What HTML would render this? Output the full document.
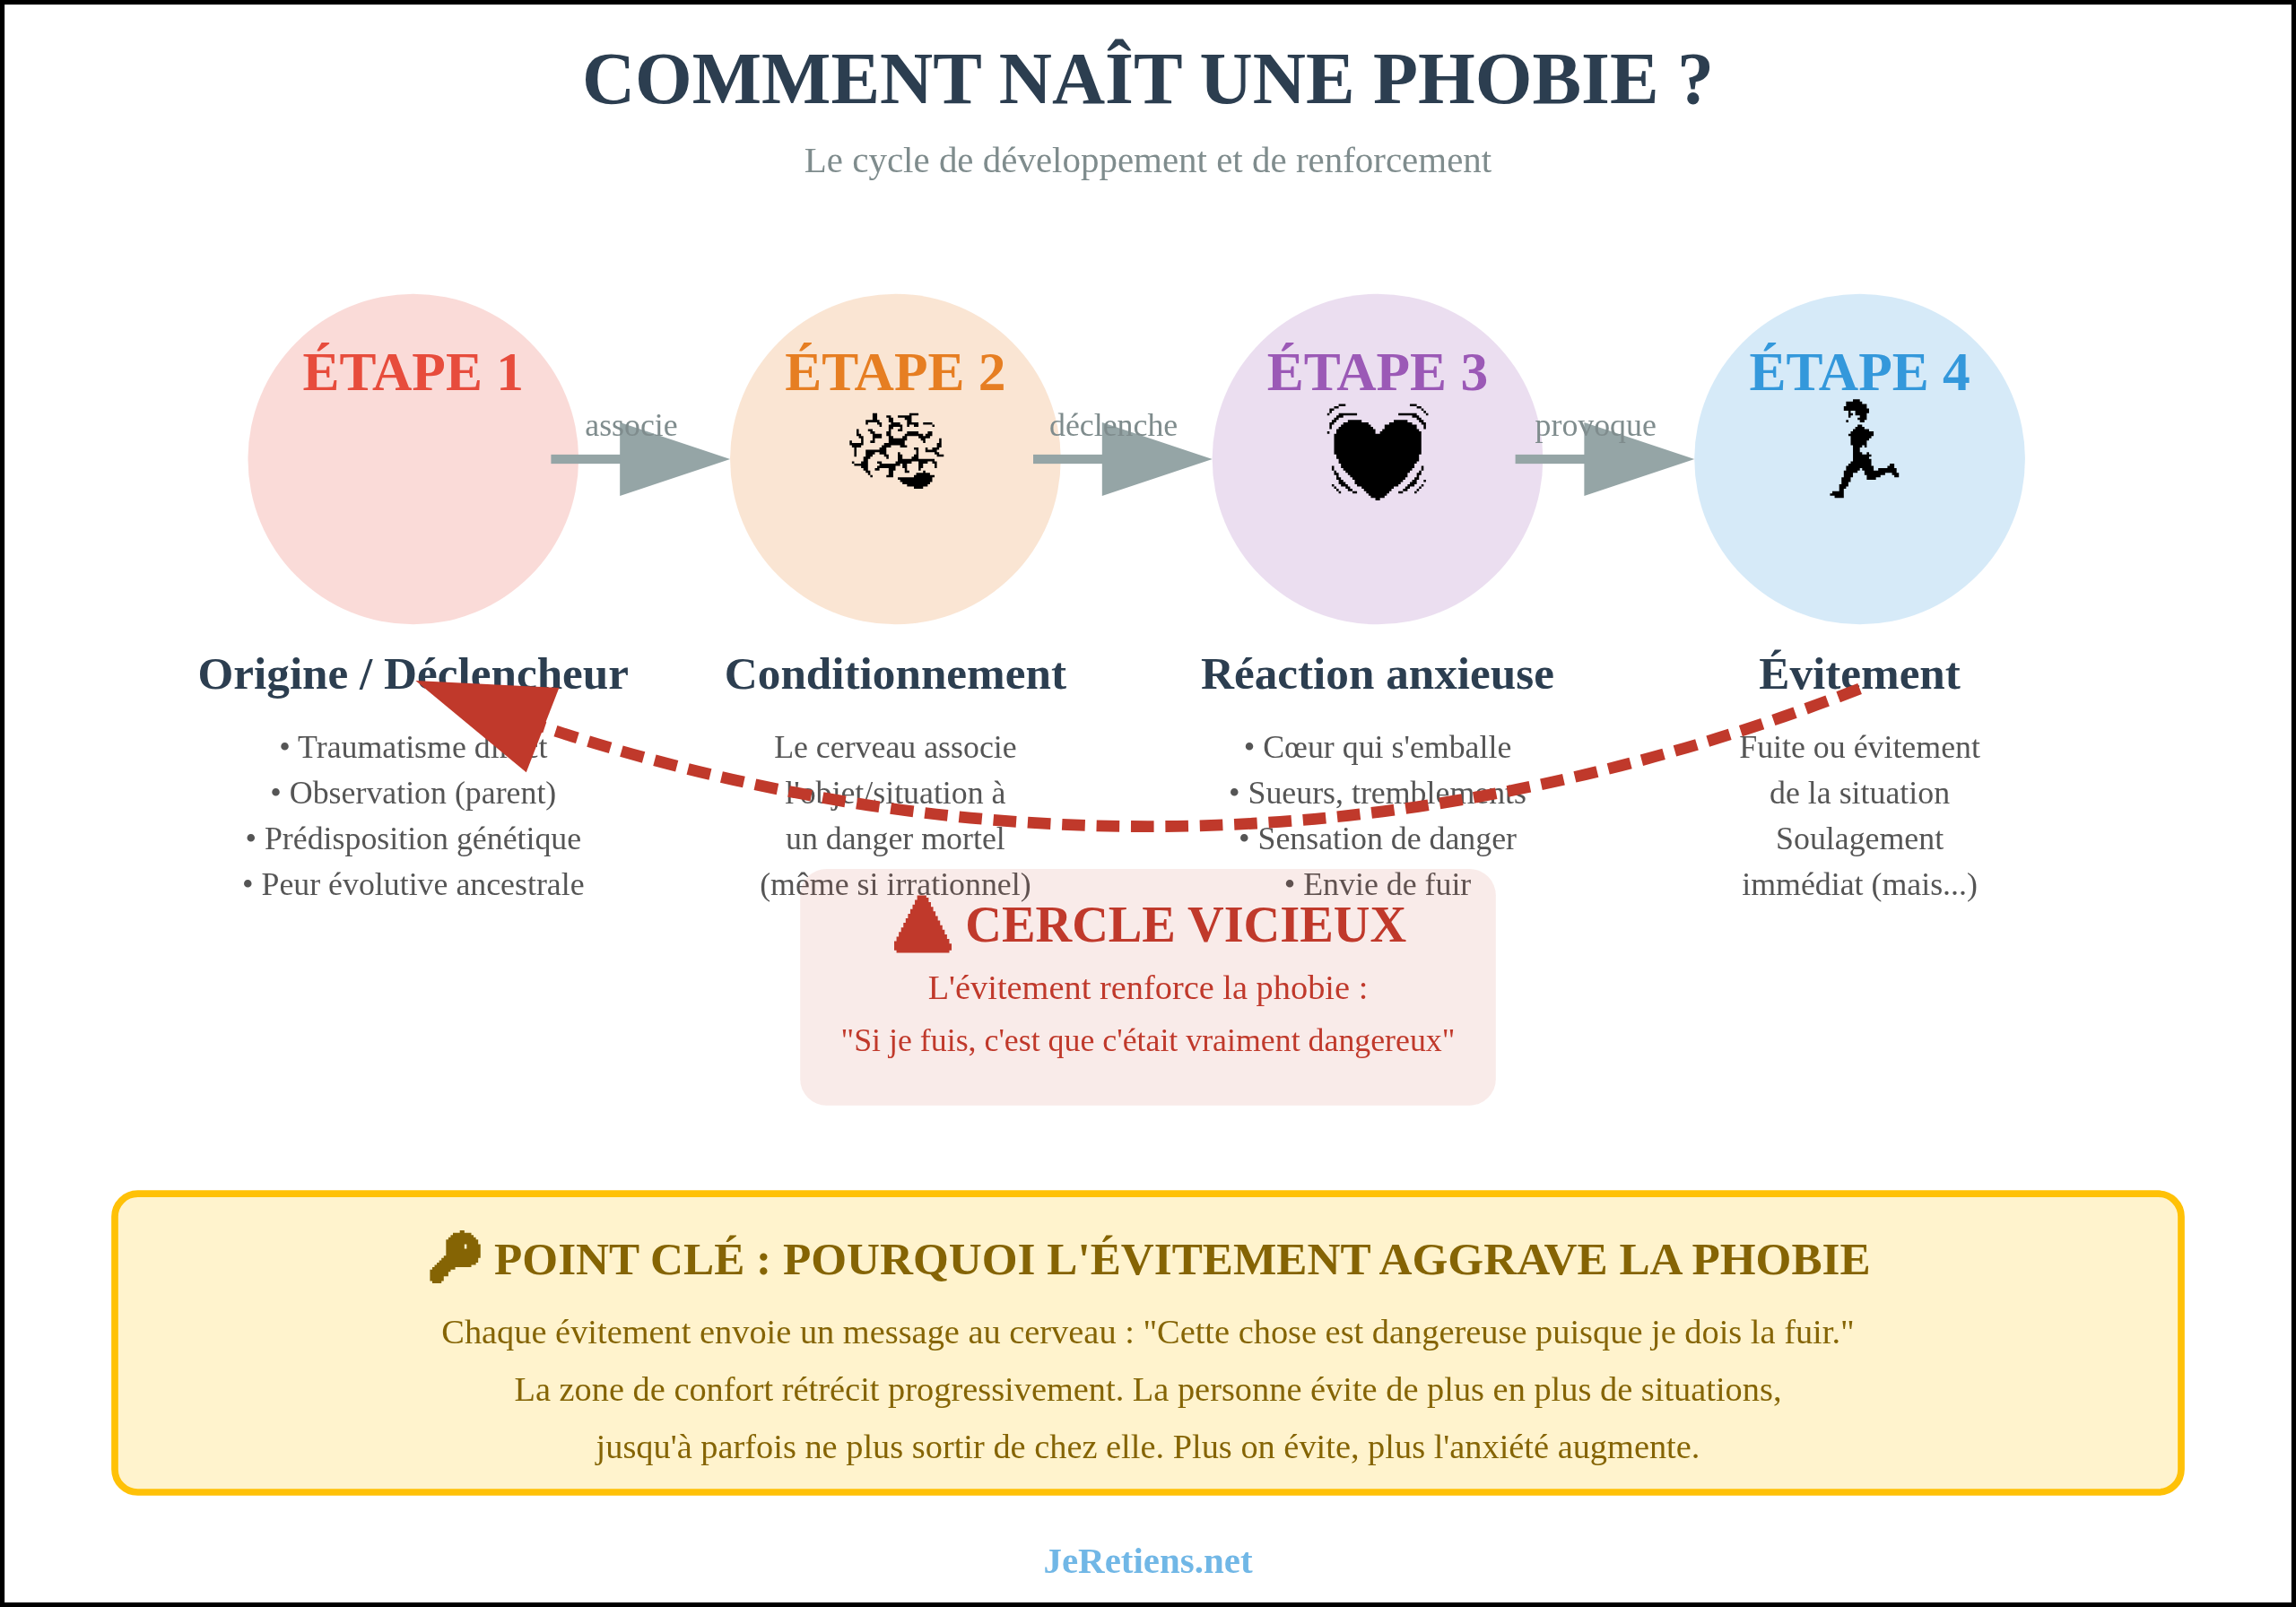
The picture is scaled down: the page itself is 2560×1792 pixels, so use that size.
<!DOCTYPE html>
<html lang="fr">
<head>
<meta charset="utf-8">
<title>Comment naît une phobie ?</title>
<style>
html,body{margin:0;padding:0;background:#fff;}
body{width:2560px;height:1792px;overflow:hidden;}
svg{display:block;will-change:transform;}
text{font-family:"Liberation Serif","DejaVu Serif",serif;}
</style>
</head>
<body>
<svg width="2560" height="1792" viewBox="0 0 1000 700">
<rect x="0" y="0" width="1000" height="700" fill="#ffffff" stroke="#000000" stroke-width="4"/>

<!-- Title -->
<text x="500" y="45" text-anchor="middle" font-size="32" font-weight="bold" fill="#2c3e50">COMMENT NAÎT UNE PHOBIE ?</text>
<text x="500" y="75" text-anchor="middle" font-size="16" fill="#7f8c8d">Le cycle de développement et de renforcement</text>

<!-- Step circles -->
<circle cx="180" cy="200" r="72" fill="#e74c3c" fill-opacity="0.2"/>
<circle cx="390" cy="200" r="72" fill="#e67e22" fill-opacity="0.2"/>
<circle cx="600" cy="200" r="72" fill="#9b59b6" fill-opacity="0.2"/>
<circle cx="810" cy="200" r="72" fill="#3498db" fill-opacity="0.2"/>

<text x="180" y="170" text-anchor="middle" font-size="24" font-weight="bold" fill="#e74c3c">ÉTAPE 1</text>
<text x="390" y="170" text-anchor="middle" font-size="24" font-weight="bold" fill="#e67e22">ÉTAPE 2</text>
<text x="600" y="170" text-anchor="middle" font-size="24" font-weight="bold" fill="#9b59b6">ÉTAPE 3</text>
<text x="810" y="170" text-anchor="middle" font-size="24" font-weight="bold" fill="#3498db">ÉTAPE 4</text>


<!-- Emoji-like pixel icons -->
<path transform="translate(365.046 172.936)" fill="#000000" d="M31 7h4v1h-4zM26 8h6v1h-6zM21 8h2v1h-2zM15 7h2v3h-2zM29 9h3v1h-3zM22 9h2v2h-2zM12 10h6v1h-6zM30 10h2v1h-2zM23 11h4v1h-4zM12 11h1v1h-1zM17 11h2v1h-2zM37 11h4v1h-4zM30 11h5v1h-5zM33 12h2v1h-2zM41 12h1v1h-1zM18 12h1v1h-1zM30 12h1v1h-1zM22 12h6v1h-6zM22 13h2v1h-2zM27 13h1v1h-1zM26 14h2v1h-2zM13 14h2v1h-2zM22 14h1v1h-1zM8 14h1v2h-1zM14 15h2v1h-2zM30 15h5v1h-5zM39 15h2v1h-2zM21 15h2v2h-2zM8 16h2v1h-2zM38 16h3v1h-3zM29 16h8v1h-8zM15 16h4v2h-4zM22 17h2v1h-2zM9 17h2v1h-2zM28 17h2v1h-2zM35 17h5v1h-5zM22 18h8v1h-8zM15 18h1v1h-1zM36 18h2v1h-2zM10 18h1v2h-1zM44 18h1v2h-1zM37 19h1v1h-1zM14 19h2v1h-2zM5 19h1v1h-1zM22 19h7v1h-7zM20 20h9v1h-9zM5 20h6v1h-6zM43 20h2v2h-2zM27 21h3v1h-3zM6 21h4v1h-4zM19 21h4v1h-4zM38 22h1v1h-1zM33 22h2v1h-2zM41 22h3v1h-3zM18 22h3v1h-3zM12 23h9v1h-9zM38 23h5v1h-5zM34 23h1v2h-1zM26 24h1v1h-1zM12 24h4v1h-4zM42 24h2v1h-2zM18 24h3v1h-3zM7 22h1v4h-1zM43 25h3v1h-3zM33 25h2v1h-2zM12 25h3v1h-3zM20 25h2v1h-2zM26 25h2v2h-2zM11 26h3v1h-3zM21 26h1v1h-1zM32 26h3v1h-3zM11 27h2v1h-2zM26 27h16v1h-16zM41 28h2v1h-2zM25 28h7v1h-7zM17 28h2v1h-2zM35 28h4v1h-4zM10 28h3v1h-3zM6 28h1v1h-1zM18 29h9v1h-9zM7 29h6v1h-6zM42 29h1v2h-1zM35 29h2v2h-2zM28 29h2v2h-2zM10 30h3v1h-3zM17 30h8v1h-8zM35 31h1v1h-1zM11 31h2v1h-2zM16 31h2v1h-2zM22 31h3v1h-3zM29 31h1v1h-1zM37 32h1v1h-1zM29 32h2v1h-2zM12 32h2v1h-2zM22 32h2v2h-2zM13 33h1v1h-1zM34 33h6v1h-6zM33 34h9v1h-9zM14 34h1v1h-1zM21 34h3v1h-3zM26 35h15v1h-15zM27 36h14v1h-14zM28 37h12v1h-12zM30 38h9v1h-9zM33 39h4v1h-4z"/>
<path transform="translate(575.046 172.936)" fill="#000000" d="M39 3h3v1h-3zM8 3h3v1h-3zM42 4h2v1h-2zM6 4h2v1h-2zM44 5h1v1h-1zM4 5h2v1h-2zM4 6h1v1h-1zM45 6h1v1h-1zM8 7h8v1h-8zM46 7h1v1h-1zM3 7h1v1h-1zM34 7h8v1h-8zM40 8h3v1h-3zM7 8h3v1h-3zM42 9h2v1h-2zM6 9h2v1h-2zM32 10h6v1h-6zM12 10h6v1h-6zM43 10h2v1h-2zM5 10h2v1h-2zM10 11h11v1h-11zM4 11h2v1h-2zM44 11h2v1h-2zM30 11h10v1h-10zM9 12h13v1h-13zM4 12h1v2h-1zM45 12h1v2h-1zM28 12h14v2h-14zM8 13h15v1h-15zM27 14h16v1h-16zM7 14h17v2h-17zM26 15h18v1h-18zM3 15h1v1h-1zM6 16h38v9h-38zM7 25h36v2h-36zM8 27h35v1h-35zM8 28h34v1h-34zM9 29h32v2h-32zM44 30h1v2h-1zM5 30h1v2h-1zM10 31h30v1h-30zM6 32h1v1h-1zM43 32h1v1h-1zM11 32h28v1h-28zM12 33h26v1h-26zM42 33h2v1h-2zM6 33h2v1h-2zM42 34h1v1h-1zM13 34h25v1h-25zM7 34h1v1h-1zM7 35h2v1h-2zM41 35h2v1h-2zM14 35h23v1h-23zM40 36h2v1h-2zM45 36h1v1h-1zM8 36h2v1h-2zM15 36h21v1h-21zM15 37h20v1h-20zM39 37h3v1h-3zM8 37h3v1h-3zM44 38h1v1h-1zM9 38h3v1h-3zM38 38h3v1h-3zM5 38h1v1h-1zM16 38h18v1h-18zM37 39h2v1h-2zM11 39h2v1h-2zM18 39h14v1h-14zM6 39h1v1h-1zM43 39h1v1h-1zM7 40h1v1h-1zM36 40h2v1h-2zM42 40h1v1h-1zM19 40h12v1h-12zM12 40h2v1h-2zM20 41h10v1h-10zM34 41h2v1h-2zM41 41h1v1h-1zM14 41h2v1h-2zM8 41h1v1h-1zM21 42h8v1h-8zM22 43h6v1h-6zM24 44h2v1h-2z"/>
<path transform="translate(785.046 172.936)" fill="#000000" d="M22 1h3v1h-3zM19 2h7v1h-7zM19 3h9v1h-9zM18 4h10v1h-10zM18 5h11v1h-11zM23 6h6v1h-6zM20 6h1v1h-1zM20 7h2v1h-2zM23 7h5v1h-5zM25 8h3v1h-3zM20 8h1v1h-1zM24 9h4v1h-4zM19 10h1v1h-1zM25 10h2v1h-2zM24 12h2v1h-2zM23 13h4v1h-4zM22 14h7v1h-7zM21 15h10v1h-10zM20 16h11v1h-11zM21 17h9v1h-9zM21 18h8v1h-8zM21 19h7v2h-7zM22 21h4v1h-4zM27 21h1v1h-1zM22 22h3v2h-3zM28 24h1v1h-1zM22 24h4v1h-4zM22 25h8v1h-8zM22 26h7v1h-7zM22 27h8v1h-8zM21 28h9v1h-9zM38 29h2v1h-2zM20 29h10v1h-10zM19 30h12v1h-12zM37 30h3v1h-3zM33 31h8v1h-8zM19 31h6v1h-6zM26 31h5v1h-5zM18 32h6v1h-6zM27 32h14v1h-14zM27 33h9v1h-9zM39 33h3v1h-3zM18 33h4v2h-4zM40 34h2v1h-2zM28 34h6v1h-6zM28 35h4v1h-4zM17 35h4v2h-4zM17 37h3v1h-3zM16 38h4v1h-4zM16 39h3v1h-3zM16 40h2v1h-2zM13 41h5v1h-5zM12 42h6v1h-6zM14 43h4v1h-4z"/>

<!-- Arrows -->
<g fill="#95a5a6" stroke="none">
<rect x="240" y="198" width="32" height="4"/><polygon points="270,184 318,200 270,216"/>
<rect x="450" y="198" width="32" height="4"/><polygon points="480,184 528,200 480,216"/>
<rect x="660" y="198" width="32" height="4"/><polygon points="690,184 738,200 690,216"/>
</g>
<text x="275" y="190" text-anchor="middle" font-size="14" fill="#7f8c8d">associe</text>
<text x="485" y="190" text-anchor="middle" font-size="14" fill="#7f8c8d">déclenche</text>
<text x="695" y="190" text-anchor="middle" font-size="14" fill="#7f8c8d">provoque</text>

<!-- Step titles -->
<g font-size="20" font-weight="bold" fill="#2c3e50" text-anchor="middle">
<text x="180" y="300">Origine / Déclencheur</text>
<text x="390" y="300">Conditionnement</text>
<text x="600" y="300">Réaction anxieuse</text>
<text x="810" y="300">Évitement</text>
</g>

<!-- Step details -->
<g font-size="14" fill="#555555" text-anchor="middle">
<text x="180" y="330">• Traumatisme direct</text>
<text x="180" y="350">• Observation (parent)</text>
<text x="180" y="370">• Prédisposition génétique</text>
<text x="180" y="390">• Peur évolutive ancestrale</text>
<text x="390" y="330">Le cerveau associe</text>
<text x="390" y="350">l'objet/situation à</text>
<text x="390" y="370">un danger mortel</text>
<text x="390" y="390">(même si irrationnel)</text>
<text x="600" y="330">• Cœur qui s'emballe</text>
<text x="600" y="350">• Sueurs, tremblements</text>
<text x="600" y="370">• Sensation de danger</text>
<text x="600" y="390">• Envie de fuir</text>
<text x="810" y="330">Fuite ou évitement</text>
<text x="810" y="350">de la situation</text>
<text x="810" y="370">Soulagement</text>
<text x="810" y="390">immédiat (mais...)</text>
</g>

<!-- Vicious circle arrow -->
<path d="M 810 300 Q 500 420 190 300" fill="none" stroke="#c0392b" stroke-width="5" stroke-dasharray="10,5"/>
<polygon points="181,296.5 243.5,299.6 229.2,336.4" fill="#c0392b"/>

<!-- Vicious circle box -->
<rect x="348.5" y="378.5" width="303" height="103" rx="11.5" fill="#c0392b" fill-opacity="0.1"/>
<path transform="translate(389.460 390.000)" fill="#c0392b" d="M10 0h4v1h-4zM10 1h5v1h-5zM9 2h6v1h-6zM9 3h7v1h-7zM8 4h8v1h-8zM8 5h9v1h-9zM7 6h10v1h-10zM7 7h11v1h-11zM6 8h12v1h-12zM6 9h13v1h-13zM5 10h14v1h-14zM5 11h15v1h-15zM4 12h16v1h-16zM4 13h17v1h-17zM3 14h18v1h-18zM3 15h19v1h-19zM2 16h20v1h-20zM2 17h21v1h-21zM1 18h22v1h-22zM1 19h23v1h-23zM0 20h24v1h-24zM0 21h25v3h-25zM1 24h23v1h-23z"/>
<text x="516.47" y="410" text-anchor="middle" font-size="22" font-weight="bold" fill="#c0392b">CERCLE VICIEUX</text>
<text x="500" y="435" text-anchor="middle" font-size="15" fill="#c0392b">L'évitement renforce la phobie :</text>
<text x="500" y="458" text-anchor="middle" font-size="14" fill="#c0392b">"Si je fuis, c'est que c'était vraiment dangereux"</text>

<!-- Key point box -->
<rect x="50" y="520" width="900" height="130" rx="10" fill="#fff3cd" stroke="#ffc107" stroke-width="3"/>
<path transform="translate(187.270 535.980)" fill="#856404" d="M13 0h2v1h-2zM10 1h8v1h-8zM9 2h10v1h-10zM8 3h12v1h-12zM7 4h14v2h-14zM7 6h8v2h-8zM16 6h6v2h-6zM7 8h15v3h-15zM6 11h16v1h-16zM5 12h16v1h-16zM4 13h17v1h-17zM3 14h17v1h-17zM2 15h16v1h-16zM1 16h10v1h-10zM0 17h9v1h-9zM0 18h8v2h-8zM0 20h6v2h-6zM1 22h4v1h-4z"/>
<text x="514.98" y="555" text-anchor="middle" font-size="20" font-weight="bold" fill="#856404">POINT CLÉ : POURQUOI L'ÉVITEMENT AGGRAVE LA PHOBIE</text>
<g font-size="15" fill="#856404" text-anchor="middle">
<text x="500" y="585">Chaque évitement envoie un message au cerveau : "Cette chose est dangereuse puisque je dois la fuir."</text>
<text x="500" y="610">La zone de confort rétrécit progressivement. La personne évite de plus en plus de situations,</text>
<text x="500" y="635">jusqu'à parfois ne plus sortir de chez elle. Plus on évite, plus l'anxiété augmente.</text>
</g>

<!-- Footer -->
<text x="500" y="685" text-anchor="middle" font-size="16" font-weight="bold" fill="#3498db" fill-opacity="0.7">JeRetiens.net</text>
</svg>
</body>
</html>
